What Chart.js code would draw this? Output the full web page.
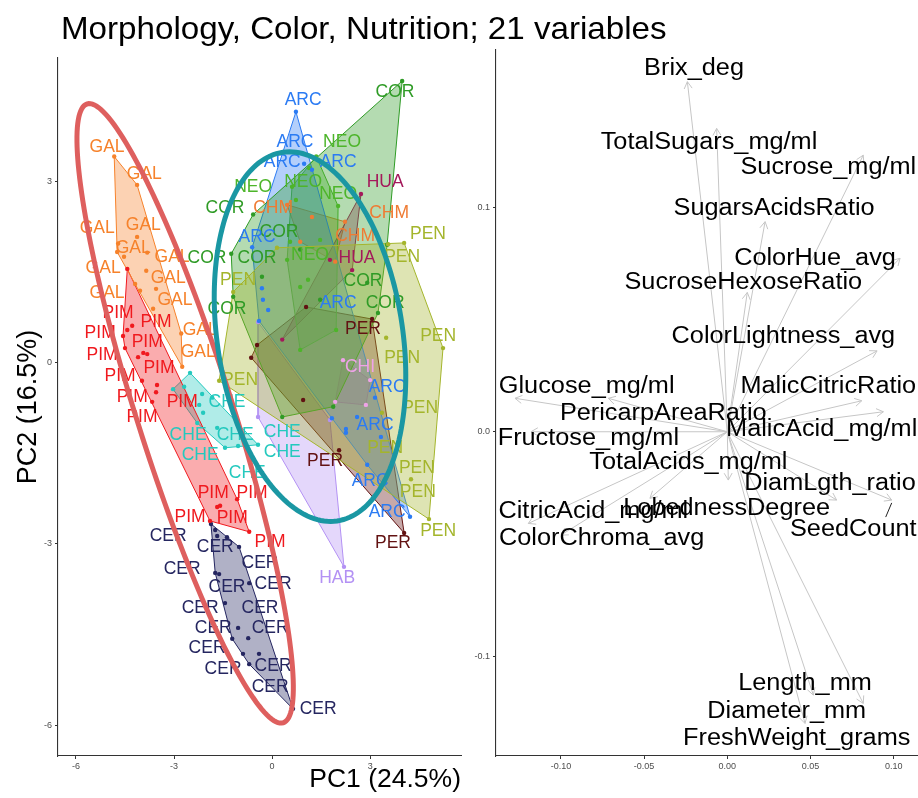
<!DOCTYPE html>
<html><head><meta charset="utf-8">
<script src="https://cdn.jsdelivr.net/npm/chart.js@4.4.1/dist/chart.umd.min.js"></script>
<style>
html,body{margin:0;padding:0;background:#fff;width:918px;height:798px;overflow:hidden}
#left{position:absolute;left:0;top:0}
#right{position:absolute;left:470px;top:0}
#title{position:absolute;left:61px;top:12px;font-family:"Liberation Sans",Arial,sans-serif;font-size:32px;line-height:32px;white-space:nowrap;color:#000;transform:scaleX(1.036);transform-origin:0 0}
</style></head><body>
<canvas id="left" width="470" height="798"></canvas>
<canvas id="right" width="448" height="798"></canvas>
<div id="title">Morphology, Color, Nutrition; 21 variables</div>
<script>
// ---------------- Left panel: PCA scores (PC1, PC2) ----------------
const groupNames = ['PEN','COR','ARC','NEO','PER','HAB','HUA','CHM','CHI','GAL','PIM','CHE','CER'];

const galPts = [[-4.83,3.41],[-4.13,2.94],[-4.13,2.08],[-4.71,1.97],[-4.74,1.83],[-4.53,1.75],[-3.82,1.82],[-3.85,1.52],[-4.19,1.30],[-4.04,1.19],[-3.55,1.22],[-3.64,0.89],[-2.78,0.48],[-2.75,-0.07]];
const galLabels = [[-5.05,3.57],[-3.91,3.12],[-5.35,2.23],[-3.94,2.28],[-4.25,1.90],[-3.06,1.75],[-5.17,1.57],[-3.18,1.40],[-5.05,1.15],[-2.97,1.04],[-2.20,0.54],[-2.26,0.18]];

const pimPts = [[-4.43,1.55],[-4.28,0.61],[-4.43,0.54],[-4.56,0.44],[-4.50,0.24],[-4.10,0.09],[-3.94,0.16],[-3.82,0.14],[-3.98,-0.30],[-3.52,-0.37],[-3.55,-0.49],[-3.67,-0.65],[-1.07,-2.26],[-1.68,-2.39],[-1.59,-2.37],[-1.90,-2.62],[-0.70,-2.80]];
const pimLabels = [[-4.71,0.81],[-5.26,0.49],[-3.55,0.67],[-5.20,0.13],[-3.82,0.34],[-4.65,-0.22],[-3.46,-0.09],[-4.28,-0.57],[-2.75,-0.65],[-3.98,-0.90],[-1.80,-2.16],[-0.61,-2.16],[-2.51,-2.55],[-1.22,-2.57],[-0.06,-2.97]];

const chePts = [[-2.51,-0.17],[-3.03,-0.44],[-2.69,-0.40],[-2.14,-0.52],[-2.23,-0.70],[-2.11,-0.83],[-2.29,-1.00],[-1.68,-1.08],[-1.44,-1.41],[-1.04,-1.38],[-0.43,-1.36],[-1.83,-0.58]];
const cheLabels = [[-1.38,-0.65],[-2.57,-1.20],[-1.13,-1.20],[0.31,-1.15],[-2.20,-1.53],[0.31,-1.49],[-0.76,-1.83]];

const cerPts = [[-1.87,-2.67],[-1.68,-2.87],[-1.38,-2.89],[-1.74,-2.77],[-1.01,-3.05],[-1.74,-3.48],[-1.62,-3.50],[-0.70,-3.65],[-1.44,-3.98],[-1.04,-4.39],[-1.22,-4.57],[-0.73,-4.56],[-0.89,-4.82],[-0.40,-4.82],[-0.70,-4.99],[0.64,-5.73]];
const cerLabels = [[-3.18,-2.87],[-1.74,-3.05],[-0.37,-3.32],[-2.75,-3.42],[-1.38,-3.71],[0.03,-3.66],[-2.20,-4.06],[-0.37,-4.06],[-1.80,-4.39],[-0.06,-4.39],[-1.99,-4.72],[-1.50,-5.07],[0.03,-5.02],[-0.06,-5.37],[1.41,-5.73]];

const arcPts = [[0.73,4.15],[0.98,3.29],[1.22,3.19],[-0.61,1.91],[-0.40,0.69],[2.60,-0.90],[2.26,-1.10],[2.26,-1.16],[3.33,-1.23],[3.15,-0.58],[2.91,-1.69],[4.22,-2.55],[1.83,-0.92],[-0.31,1.23],[-0.28,1.04],[-0.12,0.87]];
const arcLabels = [[0.95,4.35],[0.70,3.65],[0.31,3.31],[2.02,3.32],[-0.46,2.08],[2.02,0.99],[3.52,-0.40],[3.15,-1.03],[3.00,-1.96],[3.52,-2.47]];

const neoPts = [[1.35,3.41],[1.13,3.22],[0.61,2.91],[2.02,2.59],[1.96,0.54],[0.86,0.21],[0.46,1.70],[0.73,2.69],[1.47,2.03],[1.10,1.37],[0.86,1.25],[0.55,2.00]];
const neoLabels = [[2.14,3.65],[-0.58,2.91],[0.95,2.99],[2.02,2.78],[1.16,1.78]];

const corPts = [[3.98,4.66],[3.52,1.95],[3.24,0.82],[1.87,-0.73],[0.31,-0.90],[-1.19,1.09],[-1.25,1.80],[-0.58,2.45],[-0.31,1.42],[2.91,1.32],[0.86,1.87],[1.47,1.04]];
const corLabels = [[3.76,4.47],[-1.44,2.56],[0.21,2.15],[-1.99,1.73],[-0.46,1.72],[2.78,1.35],[3.46,0.99],[-1.38,0.89]];

const chmPts = [[0.46,2.61],[2.23,2.33],[1.93,1.67],[0.86,2.00],[1.22,2.41]];
const chmLabels = [[0.03,2.56],[3.58,2.48],[2.54,2.10]];

const huaPts = [[2.72,2.79],[2.45,1.53],[0.31,0.38],[1.77,1.70]];
const huaLabels = [[3.46,2.98],[2.60,1.73]];

const penPts = [[0.15,1.90],[4.04,1.98],[3.55,1.96],[5.23,0.24],[3.49,0.41],[4.80,-2.59],[-1.62,-0.30],[-1.19,1.17],[3.36,-0.83],[4.25,-1.93]];
const penLabels = [[4.77,2.13],[3.98,1.75],[-1.04,1.37],[5.08,0.43],[3.98,0.08],[-0.98,-0.29],[4.53,-0.75],[3.46,-1.41],[4.43,-1.74],[4.46,-2.14],[5.08,-2.79]];

const perPts = [[1.04,0.92],[3.06,0.72],[4.04,-2.82],[-0.64,0.08],[-0.46,0.29],[2.05,-1.45],[0.95,-0.62]];
const perLabels = [[2.78,0.56],[1.62,-1.63],[3.70,-2.98]];

const chiPts = [[2.17,0.04],[3.00,-0.29],[2.87,-0.70],[1.93,-0.65]];
const chiLabels = [[2.69,-0.07]];

const habPts = [[-0.43,0.67],[1.77,-0.95],[2.20,-3.38],[-0.43,-0.90]];
const habLabels = [[1.99,-3.56]];

const leftXTicks = [-6,-3,0,3];
const leftYTicks = [-6,-3,0,3];

// concentration ellipses: centre, semi-axis 1, semi-axis 2 (PC units)
const redEllipse  = [-2.66,-0.84,-3.00,5.12,1.40,0.24];
const tealEllipse = [1.16,0.43,-0.83,3.05,2.81,0.22];

// ---------------- Right panel: loadings ----------------
const loadingNames = ['Brix_deg','TotalSugars_mg/ml','Sucrose_mg/ml','SugarsAcidsRatio','ColorHue_avg','SucroseHexoseRatio','ColorLightness_avg','Glucose_mg/ml','PericarpAreaRatio','MalicCitricRatio','MalicAcid_mg/ml','Fructose_mg/ml','TotalAcids_mg/ml','DiamLgth_ratio','SeedCount','CitricAcid_mg/ml','LobednessDegree','ColorChroma_avg','Length_mm','Diameter_mm','FreshWeight_grams'];
const loadingPC1 = [-0.024,-0.0064,0.0817,0.0227,0.1038,0.012,0.090,-0.1276,-0.0715,0.0808,0.0938,-0.118,0.0006,0.0657,0.0988,-0.1196,-0.0465,-0.100,0.0517,0.0817,0.0467];
const loadingPC2 = [0.1558,0.135,0.1231,0.0935,0.0772,0.062,0.036,0.0149,0.0149,0.0138,0.0089,0.0,-0.0215,-0.0304,-0.0304,-0.0408,-0.0296,-0.046,-0.1172,-0.1209,-0.1298];
const labelPC1 = [-0.0200,-0.0110,0.0607,0.0281,0.0527,0.0096,0.0337,-0.0845,-0.0385,0.0607,0.0567,-0.0835,-0.0234,0.0617,0.0757,-0.0805,-0.0004,-0.0755,0.0467,0.0357,0.0417];
const labelPC2 = [0.1617,0.1286,0.1175,0.0994,0.0769,0.0663,0.0423,0.0200,0.0082,0.0200,0.0011,-0.0029,-0.0138,-0.0233,-0.0437,-0.0356,-0.0341,-0.0474,-0.1120,-0.1246,-0.1364];
const rightXTicks = [-0.10,-0.05,0.00,0.05,0.10];
const rightYTicks = [-0.1,0.0,0.1];

// ---------------- styles ----------------
const groupColors = {GAL:'#F6822B',PIM:'#F0191E',CHE:'#24C9BE',CER:'#252660',ARC:'#2B7BF3',NEO:'#4DB52A',COR:'#2F9B26',CHM:'#EF7B33',HUA:'#A4195B',PEN:'#A4B52C',PER:'#621212',CHI:'#EFA3E8',HAB:'#B391F4'};
const groupTable = {GAL:[galPts,galLabels],PIM:[pimPts,pimLabels],CHE:[chePts,cheLabels],CER:[cerPts,cerLabels],ARC:[arcPts,arcLabels],NEO:[neoPts,neoLabels],COR:[corPts,corLabels],CHM:[chmPts,chmLabels],HUA:[huaPts,huaLabels],PEN:[penPts,penLabels],PER:[perPts,perLabels],CHI:[chiPts,chiLabels],HAB:[habPts,habLabels]};

function rgba(hex,a){const n=parseInt(hex.slice(1),16);return `rgba(${(n>>16)&255},${(n>>8)&255},${n&255},${a})`;}
function hull(pts){
  const p=pts.map(a=>({x:a[0],y:a[1]})).sort((a,b)=>a.x-b.x||a.y-b.y);
  if(p.length<3) return p;
  const cross=(o,a,b)=>(a.x-o.x)*(b.y-o.y)-(a.y-o.y)*(b.x-o.x);
  const lo=[];for(const q of p){while(lo.length>=2&&cross(lo[lo.length-2],lo[lo.length-1],q)<=0)lo.pop();lo.push(q);}
  const up=[];for(let i=p.length-1;i>=0;i--){const q=p[i];while(up.length>=2&&cross(up[up.length-2],up[up.length-1],q)<=0)up.pop();up.push(q);}
  lo.pop();up.pop();const h=lo.concat(up);h.push({x:h[0].x,y:h[0].y});return h;
}

const FONT='"Liberation Sans", Arial, sans-serif';
const axisCommon = {
  grid:{display:true,drawOnChartArea:false,drawTicks:true,tickLength:3,color:'#333',lineWidth:1},
  border:{display:true,color:'#333',width:1.1},
};
function fixedTicks(arr){return function(scale){scale.ticks=arr.map(v=>({value:v}));};}

// ---- left datasets ----
const leftDatasets=[];
groupNames.forEach(g=>{
  const [pts]=groupTable[g];
  leftDatasets.push({type:'scatter',label:g,data:pts.map(p=>({x:p[0],y:p[1]})),pointRadius:2.2,pointHoverRadius:2.2,backgroundColor:groupColors[g],borderWidth:0,order:1});
});
groupNames.forEach(g=>{
  const [pts]=groupTable[g];
  leftDatasets.push({type:'line',label:g+' hull',data:hull(pts),borderColor:groupColors[g],borderWidth:1,backgroundColor:rgba(groupColors[g],0.36),fill:'shape',pointRadius:0,tension:0,order:2});
});

function drawEllipse(chart,e,color){
  const xs=chart.scales.x, ys=chart.scales.y, ctx=chart.ctx;
  ctx.save();ctx.beginPath();
  for(let i=0;i<=180;i++){
    const t=i/180*2*Math.PI;
    const x=e[0]+Math.cos(t)*e[2]+Math.sin(t)*e[4];
    const y=e[1]+Math.cos(t)*e[3]+Math.sin(t)*e[5];
    const px=xs.getPixelForValue(x), py=ys.getPixelForValue(y);
    if(i===0)ctx.moveTo(px,py);else ctx.lineTo(px,py);
  }
  ctx.closePath();ctx.lineWidth=5;ctx.strokeStyle=color;ctx.stroke();ctx.restore();
}

const leftOverlay={id:'leftOverlay',afterDatasetsDraw(chart){
  const xs=chart.scales.x, ys=chart.scales.y, ctx=chart.ctx;
  ctx.save();
  ctx.font='17.5px '+FONT;ctx.textAlign='center';ctx.textBaseline='middle';
  groupNames.forEach(g=>{
    const labs=groupTable[g][1];ctx.fillStyle=groupColors[g];
    labs.forEach(l=>ctx.fillText(g,xs.getPixelForValue(l[0]),ys.getPixelForValue(l[1])));
  });
  ctx.restore();
  drawEllipse(chart,redEllipse,'#DE5F5E');
  drawEllipse(chart,tealEllipse,'#1A97A3');
}};

new Chart(document.getElementById('left'),{
  type:'scatter',
  data:{datasets:leftDatasets},
  options:{
    responsive:false,animation:false,devicePixelRatio:1,
    layout:{padding:{top:58,right:9,left:0,bottom:0}},
    plugins:{legend:{display:false},tooltip:{enabled:false}},
    scales:{
      x:{type:'linear',min:-6.55,max:5.78,...axisCommon,
        afterFit(s){s.height=42;},afterBuildTicks:fixedTicks(leftXTicks),
        ticks:{font:{size:9,family:FONT},color:'#4D4D4D',padding:2,maxRotation:0,autoSkip:false,callback:v=>String(v)},
        title:{display:true,text:'PC1 (24.5%)',align:'end',color:'#000',font:{size:26.5,family:FONT},padding:{top:0,bottom:2}}},
      y:{type:'linear',min:-6.51,max:5.04,...axisCommon,
        afterFit(s){s.width=58;},afterBuildTicks:fixedTicks(leftYTicks),
        ticks:{font:{size:9,family:FONT},color:'#4D4D4D',padding:3,autoSkip:false,callback:v=>String(v)},
        title:{display:true,text:'PC2 (16.5%)',color:'#000',font:{size:27,family:FONT},padding:{top:12,bottom:0}}}
    }
  },
  plugins:[leftOverlay]
});

// ---- right chart ----
const STRETCH=1.1;
const rightOverlay={id:'rightOverlay',afterDatasetsDraw(chart){
  const xs=chart.scales.x, ys=chart.scales.y, ctx=chart.ctx;
  const ox=xs.getPixelForValue(0), oy=ys.getPixelForValue(0);
  const meta=chart.getDatasetMeta(0);
  ctx.save();
  ctx.strokeStyle='#C6C6C6';ctx.lineWidth=1;
  meta.data.forEach(el=>{
    const tx=el.x, ty=el.y;
    ctx.beginPath();ctx.moveTo(ox,oy);ctx.lineTo(tx,ty);ctx.stroke();
    const a=Math.atan2(ty-oy,tx-ox), L=8, w=Math.PI/6;
    ctx.beginPath();
    ctx.moveTo(tx-L*Math.cos(a-w),ty-L*Math.sin(a-w));ctx.lineTo(tx,ty);
    ctx.lineTo(tx-L*Math.cos(a+w),ty-L*Math.sin(a+w));ctx.stroke();
  });
  ctx.font='23px '+FONT;ctx.textAlign='center';ctx.textBaseline='middle';
  loadingNames.forEach((n,i)=>{
    const lx=xs.getPixelForValue(labelPC1[i]), ly=ys.getPixelForValue(labelPC2[i]);
    const el=meta.data[i];
    const hw=ctx.measureText(n).width*STRETCH/2, hh=11;
    const cx=Math.max(lx-hw,Math.min(el.x,lx+hw)), cy=Math.max(ly-hh,Math.min(el.y,ly+hh));
    const d=Math.hypot(el.x-cx,el.y-cy);
    if(d>8){ctx.strokeStyle='#222';ctx.lineWidth=1;ctx.beginPath();ctx.moveTo(el.x-(el.x-cx)*0.15,el.y-(el.y-cy)*0.15);ctx.lineTo(cx+(el.x-cx)*0.1-6,cy+(el.y-cy)*0.1);ctx.stroke();}
    ctx.save();ctx.translate(lx,ly);ctx.scale(STRETCH,1);
    ctx.fillStyle='#000';ctx.fillText(n,0,0);ctx.restore();
  });
  ctx.restore();
}};

new Chart(document.getElementById('right'),{
  type:'scatter',
  data:{datasets:[{label:'loadings',data:loadingPC1.map((x,i)=>({x:x,y:loadingPC2[i]})),pointRadius:0,pointHoverRadius:0}]},
  options:{
    responsive:false,animation:false,devicePixelRatio:1,
    layout:{padding:{top:50,right:0,left:0,bottom:0}},
    plugins:{legend:{display:false},tooltip:{enabled:false}},
    scales:{
      x:{type:'linear',min:-0.139,max:0.1146,...axisCommon,
        afterFit(s){s.height=42;},afterBuildTicks:fixedTicks(rightXTicks),
        ticks:{font:{size:9,family:FONT},color:'#4D4D4D',padding:2,maxRotation:0,autoSkip:false,callback:v=>v.toFixed(2)}},
      y:{type:'linear',min:-0.1443,max:0.1699,...axisCommon,
        afterFit(s){s.width=26;},afterBuildTicks:fixedTicks(rightYTicks),
        ticks:{font:{size:9,family:FONT},color:'#4D4D4D',padding:3,autoSkip:false,callback:v=>v.toFixed(1)}}
    }
  },
  plugins:[rightOverlay]
});
</script>
</body></html>
